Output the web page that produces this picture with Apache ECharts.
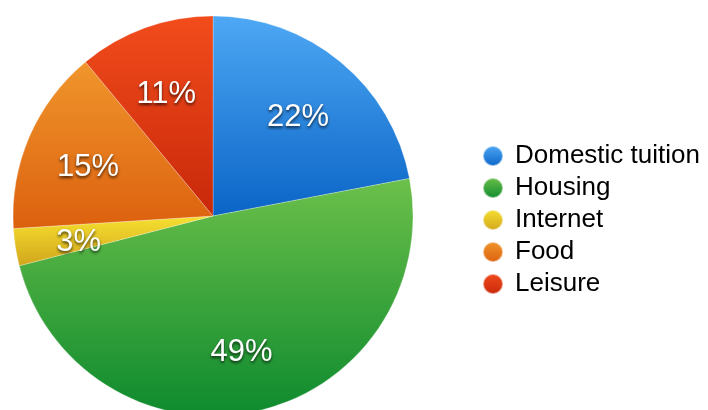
<!DOCTYPE html>
<html>
<head>
<meta charset="utf-8">
<script src="https://cdn.jsdelivr.net/npm/echarts@6/dist/echarts.min.js"></script>
<style>
html,body{margin:0;padding:0;background:#fff;}
#chart{width:708px;height:410px;}
</style>
</head>
<body>
<div id="chart"></div>
<script>
const categories = ['Domestic tuition', 'Housing', 'Internet', 'Food', 'Leisure'];
const values = [22, 49, 3, 15, 11];
const topColors = ['#4ea8f4', '#6cc04a', '#f6e030', '#f0962c', '#f24c1c'];
const bottomColors = ['#0a64c6', '#0d8a2e', '#d2a61c', '#dc600e', '#c8280a'];

function grad(i) {
  return new echarts.graphic.LinearGradient(0, 0, 0, 1, [
    { offset: 0, color: topColors[i] },
    { offset: 1, color: bottomColors[i] }
  ]);
}

const data = categories.map((c, i) => ({
  name: c,
  value: values[i],
  itemStyle: { color: grad(i) }
}));
const labelData = categories.map((c, i) => ({ name: c, value: values[i] }));

const chart = echarts.init(document.getElementById('chart'), null, { renderer: 'canvas' });
chart.setOption({
  animation: false,
  backgroundColor: '#ffffff',
  legend: {
    orient: 'vertical',
    left: 477,
    top: 138,
    icon: 'circle',
    itemWidth: 20,
    itemHeight: 20,
    itemGap: 6,
    data: categories,
    textStyle: {
      fontSize: 26,
      color: '#000',
      fontFamily: 'Liberation Sans, Arial, sans-serif',
      padding: [0, 0, 0, 7]
    },
    selectedMode: false
  },
  series: [
    {
      type: 'pie',
      center: [213, 216],
      radius: [0, 200],
      startAngle: 90,
      clockwise: true,
      label: { show: false },
      labelLine: { show: false },
      itemStyle: { borderColor: 'rgba(255,255,255,0.5)', borderWidth: 0.5 },
      emphasis: { disabled: true },
      data: data
    },
    {
      type: 'pie',
      center: [212, 221],
      radius: [64, 200],
      startAngle: 90,
      clockwise: true,
      silent: true,
      legendHoverLink: false,
      itemStyle: { color: 'rgba(0,0,0,0)' },
      emphasis: { disabled: true },
      labelLine: { show: false },
      label: {
        show: true,
        position: 'inside',
        formatter: p => p.value + '%',
        color: '#fff',
        fontSize: 31,
        fontFamily: 'Liberation Sans, Arial, sans-serif',
        textShadowColor: 'rgba(0,0,0,0.7)',
        textShadowBlur: 3,
        textShadowOffsetX: 0,
        textShadowOffsetY: 2
      },
      data: labelData
    }
  ]
});
</script>
</body>
</html>
